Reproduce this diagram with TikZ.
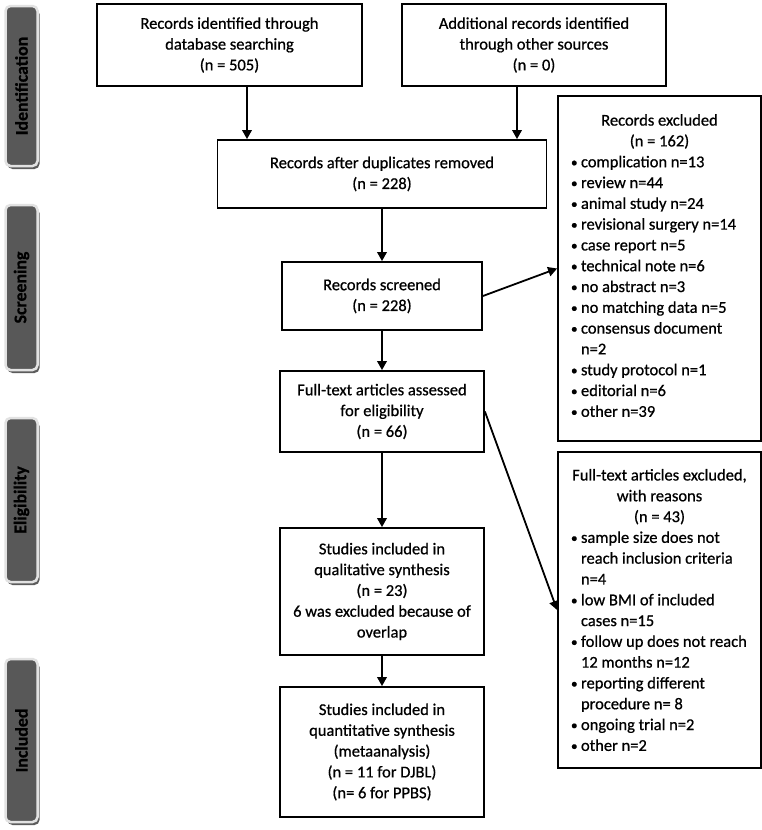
\documentclass[tikz,border=0pt]{standalone}
\usepackage{fontspec}
\setmainfont{Carlito}[FakeBold=0.7]
\usetikzlibrary{arrows.meta}
\definecolor{lblgray}{RGB}{88,88,88}
\definecolor{lblborder}{RGB}{226,226,226}
\definecolor{lblshadow}{RGB}{92,92,92}
\newcommand\bul{\makebox[10pt][l]{\raisebox{0.5pt}{\scalebox{0.8}{•}}}}
\newcommand\li[1]{\makebox[177pt][l]{#1}}
\tikzset{
  box/.style={draw=black, line width=1.8pt, fill=white, align=center, inner sep=0pt,
    font=\fontsize{16.5}{20.8}\selectfont},
  arr/.style={line width=1.8pt, -{Triangle[length=9pt,width=9.5pt]}},
  phaseshadow/.style={fill=lblshadow, rounded corners=5pt},
  phasebg/.style={fill=lblgray, draw=lblborder, line width=2.5pt, rounded corners=5pt},
  phasetext/.style={rotate=90, inner sep=0pt, text=black,
    font=\fontsize{17.8}{20}\selectfont\bfseries}
}
\begin{document}
\begin{tikzpicture}[x=1pt,y=-1pt]
\useasboundingbox[fill=white] (0,0) rectangle (762,830);

% phase labels
\foreach \ya/\yb in {6/166, 205/370, 418/582, 659/822}{
  \path[phaseshadow] (7.5,\ya+3) rectangle (39.5,\yb+3);
  \path[phasebg] (5.5,\ya) rectangle (37.5,\yb);
}
\node[phasetext] (L1) at (21.5,86) {Identification};
\node[phasetext] (L2) at (21.5,287.5) {Screening};
\node[phasetext] (L3) at (21.5,500) {Eligibility};
\node[phasetext] (L4) at (21.5,740.5) {Included};

% main boxes
\node[box, minimum width=265pt, minimum height=82pt] (b1) at (229.5,45)
  {Records identified through\\database searching\\(n = 505)};
\node[box, minimum width=264pt, minimum height=82pt] (b2) at (534,45)
  {Additional records identified\\through other sources\\(n = 0)};
\node[box, minimum width=329pt, minimum height=68pt] (b3) at (382,174)
  {Records after duplicates removed\\(n = 228)};
\node[box, minimum width=200pt, minimum height=68pt] (b4) at (382,296)
  {Records screened\\(n = 228)};
\node[box, minimum width=204pt, minimum height=81pt] (b5) at (382,411.5)
  {Full-text articles assessed\\for eligibility\\(n = 66)};
\node[box, minimum width=204pt, minimum height=127pt] (b6) at (382,591.5)
  {Studies included in\\qualitative synthesis\\(n = 23)\\6 was excluded because of\\overlap};
\node[box, minimum width=204pt, minimum height=130pt] (b7) at (382,752)
  {Studies included in\\quantitative synthesis\\(metaanalysis)\\(n = 11 for DJBL)\\(n= 6 for PPBS)};

% exclusion boxes
\node[box, minimum width=203pt, minimum height=345pt] (e1) at (659.5,268.5)
  {Records excluded\\(n = 162)\\
   \li{\bul complication n=13}\\
   \li{\bul review n=44}\\
   \li{\bul animal study n=24}\\
   \li{\bul revisional surgery n=14}\\
   \li{\bul case report n=5}\\
   \li{\bul technical note n=6}\\
   \li{\bul no abstract n=3}\\
   \li{\bul no matching data n=5}\\
   \li{\bul consensus document}\\
   \li{\hspace*{10pt}n=2}\\
   \li{\bul study protocol n=1}\\
   \li{\bul editorial n=6}\\
   \li{\bul other n=39}\\[-14.8pt]\mbox{}};
\node[box, minimum width=203pt, minimum height=316pt] (e2) at (659.5,610)
  {Full-text articles excluded,\\with reasons\\(n = 43)\\
   \li{\bul sample size does not}\\
   \li{\hspace*{10pt}reach inclusion criteria}\\
   \li{\hspace*{10pt}n=4}\\
   \li{\bul low BMI of included}\\
   \li{\hspace*{10pt}cases n=15}\\
   \li{\bul follow up does not reach}\\
   \li{\hspace*{10pt}12 months n=12}\\
   \li{\bul reporting different}\\
   \li{\hspace*{10pt}procedure n= 8}\\
   \li{\bul ongoing trial n=2}\\
   \li{\bul other n=2}};

% connectors
\draw[arr] ([xshift=17.5pt]b1.south) -- ([xshift=17.5pt]b1.south |- b3.north);
\draw[arr] ([xshift=-17pt]b2.south) -- ([xshift=-17pt]b2.south |- b3.north);
\draw[arr] (b3.south) -- (b3.south |- b4.north);
\draw[arr] (b4.south) -- (b4.south |- b5.north);
\draw[arr] (b5.south) -- (b5.south |- b6.north);
\draw[arr] (b6.south) -- (b6.south |- b7.north);
\draw[arr] (b4.east) -- (e1.west);
\draw[arr] (b5.east) -- (e2.west);
\end{tikzpicture}
\end{document}
